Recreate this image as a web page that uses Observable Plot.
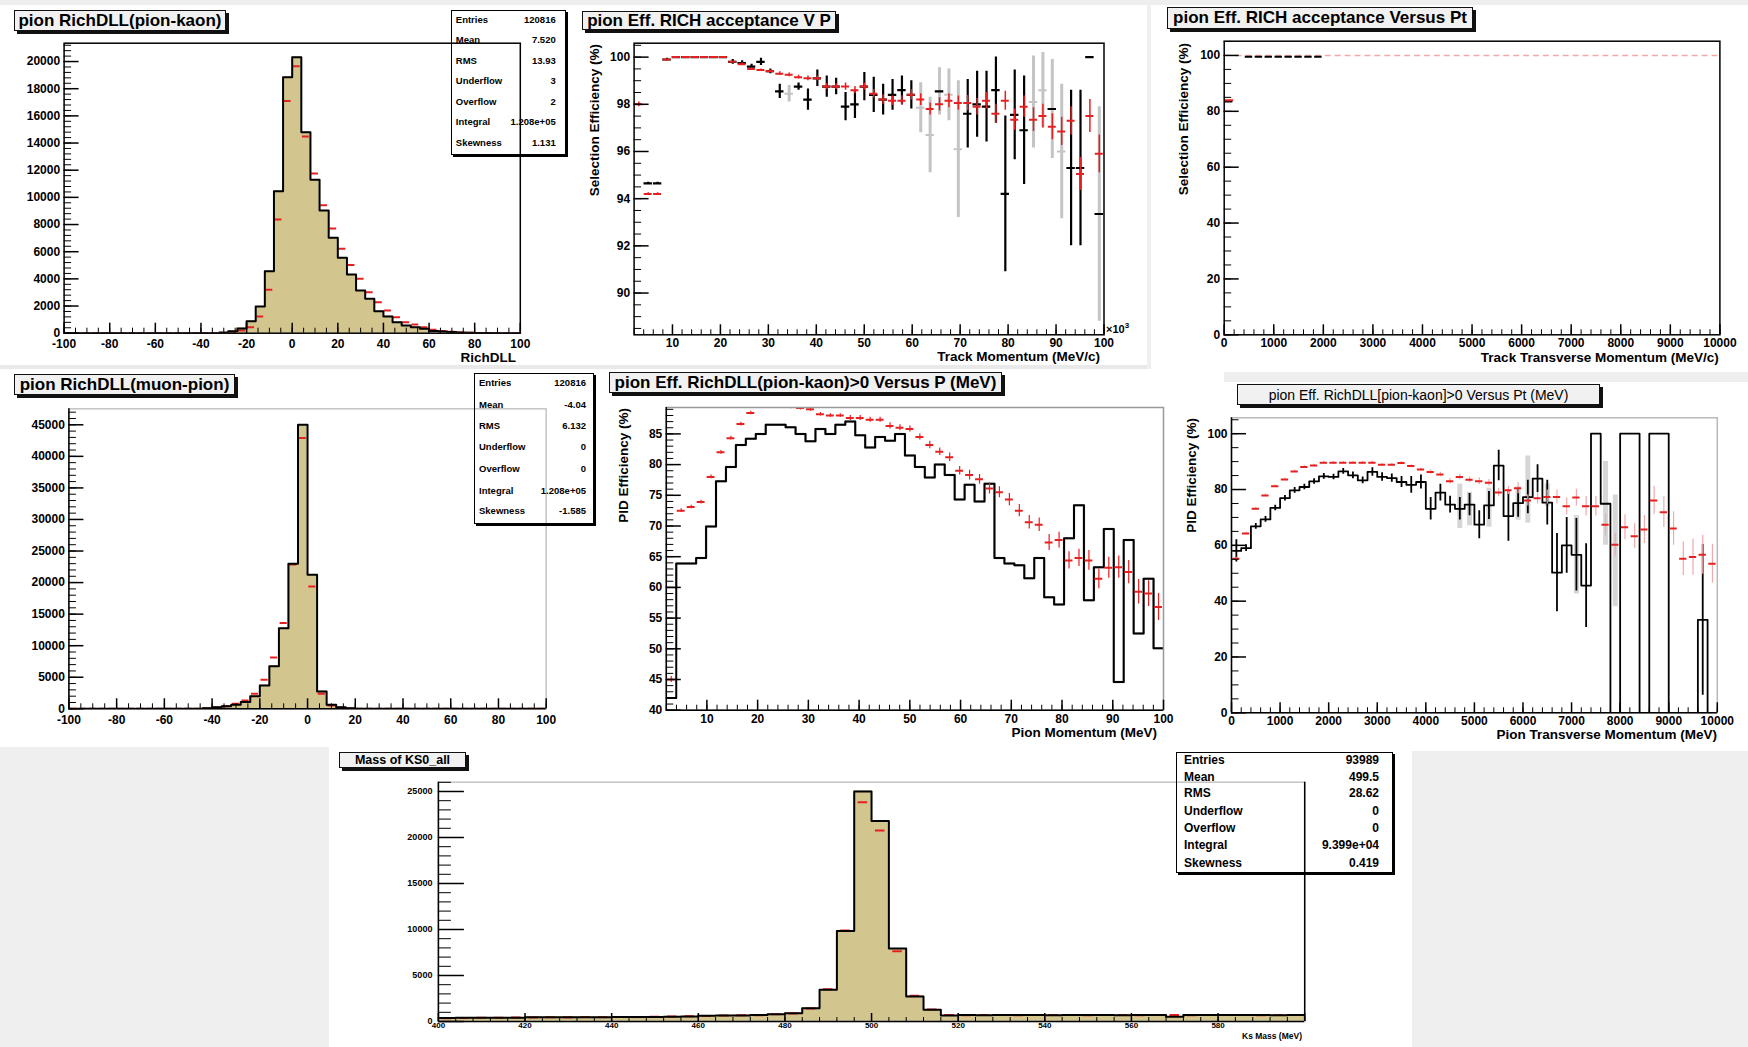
<!DOCTYPE html>
<html>
<head>
<meta charset="utf-8">
<script src="https://cdn.jsdelivr.net/npm/d3@7"></script>
<script src="https://cdn.jsdelivr.net/npm/@observablehq/plot@0.6"></script>
<style>
html,body{margin:0;padding:0;background:#fff;}
#root{position:relative;width:1748px;height:1047px;overflow:hidden;background:#fff;font-family:'Liberation Sans',Arial,Helvetica,sans-serif;color:#000;}
.blk{position:absolute;}
.tbox{position:absolute;box-sizing:border-box;background:#f1f1f1;border:1px solid #111;box-shadow:3px 3px 0 #111;display:flex;align-items:center;justify-content:center;white-space:nowrap;}
.sbox{position:absolute;box-sizing:border-box;border:1.5px solid #000;box-shadow:2px 2px 0 #000;}
.txt{position:absolute;white-space:nowrap;font-weight:bold;}
</style>
</head>
<body>
<div id="root"></div>
<script>
// ================= DATA =================
// Panel 1 : pion RichDLL(pion-kaon)  (50 bins of 4 from -100)
const dllPKStart = -100, dllPKWidth = 4;
const dllPKRef = [0,0,0,0,0,0,0,0,0,0, 0,0,0,0,0,0,0,50,150,350,
  880,1960,4560,10450,18850,20320,14800,11290,9030,7020,
  5550,4320,3140,2530,1620,1230,810,560,440,330,
  170,120,80,50,30,20,10,5,0,0];
const dllPKNew = [0,0,0,0,0,0,0,0,0,0, 0,0,0,0,0,0,0,20,80,200,
  440,1230,3190,8370,17100,19650,14480,11750,9420,7700,
  6210,5030,4000,3020,2280,1670,1180,810,640,440,
  250,160,100,60,40,20,10,5,0,0];
const dllPKStats = [["Entries","120816"],["Mean","7.520"],["RMS","13.93"],["Underflow","3"],["Overflow","2"],["Integral","1.208e+05"],["Skewness","1.131"]];
const dllXTicks = [-100,-80,-60,-40,-20,0,20,40,60,80,100];
const dllPKYTicks = [0,2000,4000,6000,8000,10000,12000,14000,16000,18000,20000];

// Panel 2 : pion Eff. RICH acceptance V P  (50 bins from 2 to 100, x10^3)
const accPStart = 2, accPWidth = 1.96;
const accPRef = [null,94.65,94.65,99.9,100,100,100,100,100,100,
  99.8,99.75,99.6,99.8,99.4,98.55,null,98.75,98.2,99.1,
  98.75,98.75,97.9,98.0,98.75,98.4,98.2,98.4,98.6,98.4,
  null,null,98.55,null,null,97.6,98.0,97.9,98.6,94.2,
  97.55,96.9,null,null,97.8,null,95.3,95.3,100,93.35];
const accPRefErr = [null,0.05,0.05,0.05,0,0,0,0,0,0,
  0.1,0.1,0.1,0.15,0.1,0.3,null,0.15,0.45,0.35,
  0.45,0.35,0.6,0.6,0.6,0.75,0.65,0.65,0.6,0.6,
  null,null,0,null,null,1.45,1.4,1.5,1.4,3.3,
  1.9,2.3,null,null,0,null,3.3,3.3,0,0];
const accPAlt = [null,null,null,null,null,null,null,null,null,null,
  null,null,null,null,null,null,98.45,null,null,null,
  null,null,null,null,null,null,null,null,null,null,
  97.85,96.7,98.55,98.4,96.1,null,null,null,null,null,
  null,null,98.1,98.6,97.8,96.0,null,null,null,93.35];
const accPAltErr = [null,null,null,null,null,null,null,null,null,null,
  null,null,null,null,null,null,0.35,null,null,null,
  null,null,null,null,null,null,null,null,null,null,
  1.06,1.6,1.0,1.1,2.9,null,null,null,null,null,
  null,null,1.95,1.6,2.1,2.85,null,null,null,4.55];
const accPNew = [98.0,94.2,94.2,99.9,100,100,100,100,100,100,
  99.8,99.7,99.5,99.45,99.4,99.3,99.25,99.15,99.1,99.1,
  98.75,98.75,98.75,98.6,98.75,98.45,98.2,98.15,98.15,98.4,
  98.2,97.8,98.0,98.15,98.05,98.05,97.9,98.15,97.6,98.15,
  97.35,97.9,97.35,97.5,97.05,96.85,97.3,95.05,97.5,95.9];
const accPNewErr = [0.1,0.05,0.05,0.02,0,0,0,0,0,0,
  0.03,0.05,0.05,0.05,0.05,0.08,0.08,0.08,0.1,0.1,
  0.12,0.12,0.15,0.15,0.15,0.18,0.2,0.2,0.2,0.22,
  0.25,0.25,0.28,0.3,0.3,0.32,0.35,0.35,0.4,0.4,
  0.45,0.45,0.5,0.5,0.55,0.6,0.6,0.7,0.7,0.8];
const accPXTicks = [10,20,30,40,50,60,70,80,90,100];
const accPYTicks = [90,92,94,96,98,100];

// Panel 3 : pion Eff. RICH acceptance Versus Pt (50 bins of 200 MeV)
const accPtStart = 0, accPtWidth = 200;
const accPtRef = [83.5,null,99.5,99.5,99.5,99.5,99.5,99.5,99.5,99.5,
  null,null,null,null,null,null,null,null,null,null,
  null,null,null,null,null,null,null,null,null,null,
  null,null,null,null,null,null,null,null,null,null,
  null,null,null,null,null,null,null,null,null,null];
const accPtNew = [84,100,100,100,100,100,100,100,100,100,
  100,100,100,100,100,100,100,100,100,100,
  100,100,100,100,100,100,100,100,100,100,
  100,100,100,100,100,100,100,100,100,100,
  100,100,100,100,100,100,100,100,100,100];
const ptXTicks = [0,1000,2000,3000,4000,5000,6000,7000,8000,9000,10000];
const effYTicks = [0,20,40,60,80,100];

// Panel 4 : pion RichDLL(muon-pion)
const dllMPStart = -100, dllMPWidth = 4;
const dllMPRef = [0,0,0,0,0,0,0,0,0,0, 0,0,0,0,100,260,420,630,1060,2000,
  3700,6760,12780,22980,45000,21240,2750,630,260,100,
  0,0,0,0,0,0,0,0,0,0, 0,0,0,0,0,0,0,0,0,0];
const dllMPNew = [0,0,0,0,0,0,0,0,0,0, 0,0,0,0,80,200,420,790,1320,2380,
  4600,8140,13580,22870,42900,19390,2380,530,150,50,
  0,0,0,0,0,0,0,0,0,0, 0,0,0,0,0,0,0,0,0,0];
const dllMPStats = [["Entries","120816"],["Mean","-4.04"],["RMS","6.132"],["Underflow","0"],["Overflow","0"],["Integral","1.208e+05"],["Skewness","-1.585"]];
const dllMPYTicks = [0,5000,10000,15000,20000,25000,30000,35000,40000,45000];

// Panel 5 : pion Eff. RichDLL(pion-kaon)>0 Versus P (MeV)
const pidPStart = 2, pidPWidth = 1.96;
const pidPRef = [42.0,63.9,63.9,64.8,69.9,77.3,79.6,83.2,84.2,85.0,
  86.5,86.5,86.1,85.0,83.8,85.8,85.0,86.5,87.0,84.8,
  82.8,84.5,83.9,85.0,81.5,79.6,77.9,80.0,78.3,74.3,
  76.7,74.0,76.9,64.8,63.9,63.6,61.5,64.8,58.4,57.2,
  68.0,73.4,57.9,63.3,69.5,44.6,67.7,52.5,61.4,50.1];
const pidPAlt = [60.0,63.9,63.9,64.8,69.9,77.3,79.6,83.2,84.2,85.0,
  86.5,86.5,86.1,85.0,83.8,85.8,85.0,86.5,87.0,84.8,
  82.8,84.5,83.9,85.0,81.5,79.6,77.9,80.0,78.3,74.3,
  76.7,74.0,76.9,64.8,63.9,63.6,61.5,64.8,58.4,57.2,
  68.0,73.4,57.9,63.3,69.5,44.6,67.7,52.5,61.4,50.1];
const pidPNew = [45.0,72.5,73.1,73.9,78.0,82.0,84.3,86.6,88.4,89.6,
  90.0,90.0,89.4,89.2,89.0,88.2,88.0,88.0,87.6,87.6,
  87.3,87.3,86.3,86.0,85.8,84.5,83.2,82.1,81.2,79.0,
  78.3,77.6,76.1,75.5,74.3,72.5,70.6,70.2,67.3,67.7,
  64.4,64.8,64.4,61.4,63.2,63.3,62.5,59.3,59.0,56.8];
const pidPNewErr = [0.5,0.3,0.3,0.3,0.3,0.3,0.3,0.3,0.3,0.3,
  0.3,0.3,0.3,0.3,0.3,0.3,0.3,0.3,0.4,0.4,
  0.4,0.4,0.5,0.5,0.5,0.5,0.6,0.6,0.7,0.7,
  0.8,0.8,0.9,0.9,1.0,1.0,1.1,1.1,1.3,1.3,
  1.4,1.4,1.6,1.6,1.7,1.8,1.9,2.0,2.1,2.2];
const pidPYTicks = [40,45,50,55,60,65,70,75,80,85];

// Panel 6 : pion Eff. RichDLL[pion-kaon]>0 Versus Pt (MeV)
const pidPtStart = 0, pidPtWidth = 200;
const pidPtRef = [58,59,66.8,69.3,73.4,76.9,79.7,80.9,82.9,84.7,
  84.5,86.5,85.1,83.3,86.3,84.5,84.1,82.7,81.7,82.7,
  73.1,78.9,74.6,73.1,74.6,67.4,74.3,88.6,70.5,75.1,
  77.3,83.9,75.3,50.2,60.0,56.6,45.6,100,74.9,0,
  100,100,0,100,100,0,0,0,33.3,0];
const pidPtRefErr = [4,1.2,1,1,1,1,1,1,1,1,
  1,1,1.2,1.2,1.5,1.5,1.5,2,3,2.5,
  4,3,3,4,4,5,5,5.5,9,5,
  6,5,8,14,10,13,15,0,0,0,
  0,0,0,0,0,0,0,0,27,0];
const pidPtAlt = [null,null,null,null,null,null,null,null,null,null,
  null,null,null,null,null,null,null,null,null,null,
  null,null,null,74,73,null,73.5,null,null,75,
  80,null,78,null,null,56.6,null,null,75,58,
  null,null,null,null,null,null,null,null,null,null];
const pidPtAltErr = [null,null,null,null,null,null,null,null,null,null,
  null,null,null,null,null,null,null,null,null,null,
  null,null,null,8,6,null,7,null,null,6,
  12,null,4,null,null,14,null,null,15,20,
  null,null,null,null,null,null,null,null,null,null];
const pidPtNew = [55.2,64.2,73.1,77.9,81.2,83.6,86.5,88.1,88.6,89.6,
  89.6,89.6,89.6,89.6,89.6,88.9,88.9,89.5,88.4,87.2,
  86.3,85.4,83.0,84.5,83.5,83.0,82.4,78.9,79.7,80.5,
  76.1,76.9,77.3,77.3,74.0,77.1,74.0,74.0,67.4,60.2,
  66.5,63.3,65.7,76.1,71.9,66.0,55.2,55.8,56.6,53.4];
const pidPtNewErr = [0.5,0.5,0.5,0.5,0.5,0.5,0.5,0.5,0.5,0.5,
  0.5,0.5,0.5,0.5,0.5,0.5,0.5,0.5,0.5,0.5,
  0.8,0.8,1,1,1,1.2,1.2,1.5,1.5,2,
  2,2,2.5,2.5,3,3,3.5,3.5,4,4,
  4.5,4.5,5,5,5.5,6,6,6.5,7,7];

// Panel 7 : Mass of KS0_all (50 bins of 4 MeV from 400)
const ksStart = 400, ksWidth = 4;
const ksRef = [380,400,400,420,420,450,450,460,470,470,
  480,490,500,520,540,620,650,660,700,800,
  900,1450,3440,9850,25000,21800,7930,2720,1270,650,
  700,690,700,710,700,690,700,710,700,690,
  700,700,520,700,700,710,700,700,690,700];
const ksNew = [350,390,410,410,430,440,460,450,480,470,
  490,480,510,530,560,600,640,680,690,780,
  880,1400,3500,9900,23840,20760,7640,2800,1300,700,
  690,700,700,690,710,700,700,690,700,710,
  690,700,700,690,700,710,700,690,700,700];
const ksStats = [["Entries","93989"],["Mean","499.5"],["RMS","28.62"],["Underflow","0"],["Overflow","0"],["Integral","9.399e+04"],["Skewness","0.419"]];
const ksXTicks = [400,420,440,460,480,500,520,540,560,580,600];
const ksXLabels = [400,420,440,460,480,500,520,540,560,580];
const ksYTicks = [0,5000,10000,15000,20000,25000];

// ================= STYLE =================
const RED = "#e62020", PALE = "#f2a9a9", GREY = "#c4c4c4", KHAKI = "#d2c68e";
const FONT = "'Liberation Sans', Arial, Helvetica, sans-serif";

// ================= HELPERS =================
function bins(start, width, vals, errs) {
  const out = [];
  vals.forEach((v, i) => {
    if (v != null) out.push({x0: start + i*width, x1: start + (i+1)*width, xc: start + (i+0.5)*width, v, e: errs ? (errs[i] ?? 0) : 0});
  });
  return out;
}
function steps(start, width, vals) {
  const pts = vals.map((v, i) => ({x: start + i*width, y: v ?? 0}));
  pts.push({x: start + vals.length*width, y: vals[vals.length-1] ?? 0});
  return pts;
}
const seq = (a, b, s) => d3.range(0, Math.floor((b - a)/s + 1e-6) + 1).map(k => +(a + k*s).toFixed(6));
const within = (arr, [a, b]) => arr.filter(t => t >= a - 1e-9 && t <= b + 1e-9);
const none = () => "";

function rootAxes(xDom, yDom, o) {
  const {xMaj, xMin, xLab = xMaj, yMaj, yMin, yLab = yMaj, fs = 12, fsx = fs, xLen = 10, yLen = 14, xPad = 4, yPad = 4} = o;
  return [
    Plot.axisX(within(xMin, xDom), {anchor: "bottom", tickSize: -xLen*0.5, tickFormat: none, label: null, strokeWidth: 1}),
    Plot.axisX(within(xMaj, xDom), {anchor: "bottom", tickSize: -xLen, tickFormat: none, label: null, strokeWidth: 1.5}),
    Plot.axisX(within(xLab, xDom), {anchor: "bottom", tickSize: 0, tickPadding: xPad, tickFormat: d => String(d), label: null, fontSize: fsx, fontWeight: "bold"}),
    Plot.axisY(within(yMin, yDom), {anchor: "left", tickSize: -yLen*0.5, tickFormat: none, label: null, strokeWidth: 1}),
    Plot.axisY(within(yMaj, yDom), {anchor: "left", tickSize: -yLen, tickFormat: none, label: null, strokeWidth: 1.5}),
    Plot.axisY(within(yLab, yDom), {anchor: "left", tickSize: 0, tickPadding: yPad, tickFormat: d => String(d), label: null, fontSize: fs, fontWeight: "bold"})
  ];
}
function makePlot(box, frame, xDom, yDom, marks) {
  const [bx0, by0, bx1, by1] = box, [fx0, fy0, fx1, fy1] = frame;
  return Plot.plot({
    width: bx1 - bx0, height: by1 - by0,
    marginLeft: fx0 - bx0, marginRight: bx1 - fx1, marginTop: fy0 - by0, marginBottom: by1 - fy1,
    x: {domain: xDom, label: null}, y: {domain: yDom, label: null},
    style: {position: "absolute", left: bx0 + "px", top: by0 + "px", background: "transparent", overflow: "visible", fontFamily: FONT, color: "#000", maxWidth: "none"},
    marks
  });
}
const hbar = (data, color, sw, inset) => Plot.ruleY(data, {y: "v", x1: d => d.x0 + inset, x2: d => d.x1 - inset, stroke: color, strokeWidth: sw, clip: true});
const vbar = (data, color, sw) => Plot.ruleX(data.filter(d => d.e > 0), {x: "xc", y1: d => d.v - d.e, y2: d => d.v + d.e, stroke: color, strokeWidth: sw, clip: true});
const histFill = (data) => Plot.rect(data, {x1: "x0", x2: "x1", y1: 0, y2: "v", fill: KHAKI, stroke: KHAKI, strokeWidth: 0.6, shapeRendering: "crispEdges", clip: true});
const stepLine = (pts, color, sw) => Plot.line(pts, {x: "x", y: "y", curve: "step-after", stroke: color, strokeWidth: sw, clip: true});

const root = document.getElementById("root");
function el(cls, css, html) {
  const d = document.createElement("div");
  d.className = cls;
  Object.assign(d.style, css);
  if (html != null) d.innerHTML = html;
  root.appendChild(d);
  return d;
}
function block([x0, y0, x1, y1], color) {
  el("blk", {left: x0 + "px", top: y0 + "px", width: (x1 - x0) + "px", height: (y1 - y0) + "px", background: color});
}
function titleBox([x0, y0, x1, y1], text, fs, fw = "bold") {
  el("tbox", {left: x0 + "px", top: y0 + "px", width: (x1 - x0) + "px", height: (y1 - y0) + "px", fontSize: fs + "px", fontWeight: fw}, text);
}
function statsBox([x0, y0, x1, y1], rows, ys, lx, rx, fs) {
  el("sbox", {left: x0 + "px", top: y0 + "px", width: (x1 - x0) + "px", height: (y1 - y0) + "px"});
  rows.forEach(([k, v], i) => {
    el("txt", {left: lx + "px", top: (ys[i] - fs*0.55) + "px", fontSize: fs + "px", lineHeight: fs*1.1 + "px"}, k);
    el("txt", {right: (1748 - rx) + "px", top: (ys[i] - fs*0.55) + "px", fontSize: fs + "px", lineHeight: fs*1.1 + "px"}, v);
  });
}
function htext(text, right, cy, fs) {
  el("txt", {right: (1748 - right) + "px", top: (cy - fs*0.55) + "px", fontSize: fs + "px", lineHeight: fs*1.1 + "px"}, text);
}
function vtext(text, cx, top, fs) {
  el("txt", {left: (cx - fs*0.55) + "px", top: top + "px", fontSize: fs + "px", lineHeight: fs*1.1 + "px", writingMode: "vertical-rl", transform: "rotate(180deg)"}, text);
}

// ================= BACKGROUND =================
block([0, 0, 1748, 5], "#eeeeee");
block([0, 365, 1150, 369], "#e9e9e9");
block([1147, 0, 1151, 369], "#efefef");
block([1224, 372, 1748, 382], "#eeeeee");
block([0, 747, 329, 1047], "#efefef");
block([1412, 751, 1748, 1047], "#efefef");

// ================= PANEL 1 =================
{
  const xDom = [-100, 100], yDom = [0, 21350];
  const ref = bins(dllPKStart, dllPKWidth, dllPKRef), nw = bins(dllPKStart, dllPKWidth, dllPKNew);
  root.appendChild(makePlot([0, 36, 575, 360], [63.6, 42.7, 519.8, 332.7], xDom, yDom, [
    histFill(ref),
    hbar(nw, RED, 2, 0.5),
    stepLine(steps(dllPKStart, dllPKWidth, dllPKRef), "#000", 2),
    Plot.frame({stroke: "#000", strokeWidth: 1.5}),
    ...rootAxes(xDom, yDom, {xMaj: dllXTicks, xMin: seq(-100, 100, 5), yMaj: dllPKYTicks, yMin: seq(0, 21350, 400), yLen: 15, xPad: 6.5})
  ]));
}
// ================= PANEL 2 =================
{
  const xDom = [2, 100], yDom = [88.23, 100.59];
  const ref = bins(accPStart, accPWidth, accPRef, accPRefErr);
  const alt = bins(accPStart, accPWidth, accPAlt, accPAltErr);
  const nw = bins(accPStart, accPWidth, accPNew, accPNewErr);
  root.appendChild(makePlot([585, 36, 1145, 360], [633.6, 42.7, 1103.5, 334.3], xDom, yDom, [
    vbar(alt, GREY, 3), hbar(alt, GREY, 2, 0.1),
    vbar(ref, "#000", 2.2), hbar(ref, "#000", 2.2, 0.1),
    vbar(nw, RED, 1.5), hbar(nw, RED, 2, 0.15),
    Plot.frame({stroke: "#000", strokeWidth: 1.5}),
    ...rootAxes(xDom, yDom, {xMaj: accPXTicks, xMin: seq(2, 100, 2), yMaj: accPYTicks, yMin: seq(88.5, 100.5, 0.5), yLen: 15})
  ]));
}
// ================= PANEL 3 =================
{
  const xDom = [0, 10000], yDom = [0, 105.1];
  const ref = bins(accPtStart, accPtWidth, accPtRef), nw = bins(accPtStart, accPtWidth, accPtNew);
  root.appendChild(makePlot([1150, 36, 1745, 360], [1223.7, 40.7, 1719.4, 334.3], xDom, yDom, [
    hbar(nw.slice(1), PALE, 1.5, 40),
    hbar(ref, "#000", 2, 25),
    hbar(nw.slice(0, 1), RED, 2, 10),
    Plot.frame({stroke: "#000", strokeWidth: 1.5}),
    ...rootAxes(xDom, yDom, {xMaj: ptXTicks, xMin: seq(0, 10000, 200), yMaj: effYTicks, yMin: seq(0, 105, 5), yLen: 15})
  ]));
}
// ================= PANEL 4 =================
{
  const xDom = [-100, 100], yDom = [0, 47535];
  const ref = bins(dllMPStart, dllMPWidth, dllMPRef), nw = bins(dllMPStart, dllMPWidth, dllMPNew);
  root.appendChild(makePlot([0, 400, 575, 735], [68.4, 408.3, 545.7, 708.3], xDom, yDom, [
    histFill(ref),
    hbar(nw, RED, 2, 0.5),
    stepLine(steps(dllMPStart, dllMPWidth, dllMPRef), "#000", 2),
    Plot.frame({stroke: "#c4c4c4", strokeWidth: 1.5}),
    Plot.ruleX([-100], {stroke: "#000", strokeWidth: 1.5}),
    Plot.ruleY([0], {stroke: "#000", strokeWidth: 1.5}),
    ...rootAxes(xDom, yDom, {xMaj: dllXTicks, xMin: seq(-100, 100, 5), yMaj: dllMPYTicks, yMin: seq(0, 47000, 1000), yLen: 15, xPad: 6.5})
  ]));
}
// ================= PANEL 5 =================
{
  const xDom = [2, 100], yDom = [40, 89.3];
  const nw = bins(pidPStart, pidPWidth, pidPNew, pidPNewErr);
  root.appendChild(makePlot([585, 400, 1190, 735], [665.8, 407, 1163, 709.7], xDom, yDom, [
    stepLine(steps(pidPStart, pidPWidth, pidPAlt), GREY, 2.5),
    stepLine(steps(pidPStart, pidPWidth, pidPRef), "#000", 2),
    vbar(nw, RED, 1.2), hbar(nw, RED, 2, 0.2),
    Plot.frame({stroke: "#999", strokeWidth: 1.5}),
    Plot.ruleX([2], {stroke: "#000", strokeWidth: 1.5}),
    Plot.ruleY([40], {stroke: "#000", strokeWidth: 1.5}),
    ...rootAxes(xDom, yDom, {xMaj: accPXTicks, xMin: seq(2, 100, 2), yMaj: pidPYTicks, yMin: seq(40, 89, 1), yLen: 15})
  ]));
}
// ================= PANEL 6 =================
{
  const xDom = [0, 10000], yDom = [0, 105.7];
  const ref = bins(pidPtStart, pidPtWidth, pidPtRef, pidPtRefErr);
  const alt = bins(pidPtStart, pidPtWidth, pidPtAlt, pidPtAltErr);
  const nw = bins(pidPtStart, pidPtWidth, pidPtNew, pidPtNewErr);
  root.appendChild(makePlot([1175, 410, 1745, 735], [1231, 417.3, 1716.8, 712.3], xDom, yDom, [
    vbar(alt, "#d6d6d6", 5),
    stepLine(steps(pidPtStart, pidPtWidth, pidPtRef), "#000", 1.8),
    vbar(ref, "#000", 1.8),
    vbar(nw, PALE, 1.2), hbar(nw, RED, 2, 25),
    Plot.frame({stroke: "#b8b8b8", strokeWidth: 1.5}),
    Plot.ruleX([0], {stroke: "#000", strokeWidth: 1.5}),
    Plot.ruleY([0], {stroke: "#000", strokeWidth: 1.5}),
    ...rootAxes(xDom, yDom, {xMaj: ptXTicks, xMin: seq(0, 10000, 200), yMaj: effYTicks, yMin: seq(0, 105, 5), yLen: 15})
  ]));
}
// ================= PANEL 7 =================
{
  const xDom = [400, 600], yDom = [0, 26010];
  const ref = bins(ksStart, ksWidth, ksRef), nw = bins(ksStart, ksWidth, ksNew);
  root.appendChild(makePlot([340, 775, 1405, 1040], [437.9, 781.7, 1304.2, 1021], xDom, yDom, [
    histFill(ref),
    hbar(nw, RED, 2, 0.9),
    stepLine(steps(ksStart, ksWidth, ksRef), "#000", 2),
    Plot.frame({stroke: "#c4c4c4", strokeWidth: 1.5}),
    Plot.ruleX([400, 600], {stroke: "#000", strokeWidth: 1.5}),
    Plot.ruleY([0], {stroke: "#000", strokeWidth: 1.5}),
    ...rootAxes(xDom, yDom, {xMaj: ksXTicks, xLab: ksXLabels, xMin: seq(400, 600, 4), yMaj: ksYTicks, yMin: seq(0, 26000, 1000), fs: 9, fsx: 8, xLen: 8, yLen: 26, xPad: 1, yPad: 6})
  ]));
}

// ================= TITLES / STATS / AXIS TITLES =================
titleBox([14, 10, 226, 31], "pion RichDLL(pion-kaon)", 17);
titleBox([582, 11, 836, 30], "pion Eff. RICH acceptance V P", 17);
titleBox([1167, 7, 1473, 29], "pion Eff. RICH acceptance Versus Pt", 17);
titleBox([14, 374, 235, 395], "pion RichDLL(muon-pion)", 17);
titleBox([609, 372, 1002, 393], "pion Eff. RichDLL(pion-kaon)&gt;0 Versus P (MeV)", 17);
titleBox([1237, 384, 1600, 405], "pion Eff. RichDLL[pion-kaon]&gt;0 Versus Pt (MeV)", 14, "normal");
titleBox([339, 752, 466, 768], "Mass of KS0_all", 12.5);

statsBox([450.6, 10, 566, 155], dllPKStats, [20, 40.7, 61, 81.7, 102, 122.7, 143.3], 455.8, 555.7, 9.5);
statsBox([474, 373, 594, 524], dllMPStats, [383.3, 405, 426, 447.7, 469.3, 491, 511.7], 479, 586, 9.5);
statsBox([1176, 752, 1393, 873], ksStats, [760.7, 777.3, 794, 811.3, 828.7, 845.3, 863.3], 1184, 1379, 12);

htext("RichDLL", 516, 358, 13.5);
htext("Track Momentum (MeV/c)", 1100, 357, 13.5);
el("txt", {left: "1106px", top: "320px", fontSize: "11px", lineHeight: "12px"}, "×10<sup style='font-size:8px'>3</sup>");
vtext("Selection Efficiency (%)", 595, 44, 13.5);
htext("Track Transverse Momentum (MeV/c)", 1718.7, 358, 13.5);
vtext("Selection Efficiency (%)", 1184, 43, 13.5);
htext("Pion Momentum (MeV)", 1157, 733, 13.5);
vtext("PID Efficiency (%)", 624.5, 408, 13.5);
htext("Pion Transverse Momentum (MeV)", 1717, 735, 13.5);
vtext("PID Efficiency (%)", 1192, 418, 13.5);
htext("Ks Mass (MeV)", 1302, 1037, 8.5);
</script>
</body>
</html>
